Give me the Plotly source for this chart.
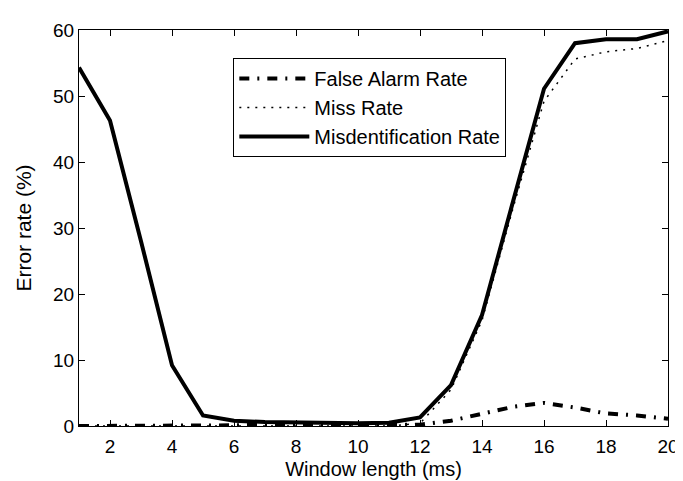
import plotly.graph_objects as go

window_ms = list(range(1, 21))
false_alarm = [0.0, 0.0, 0.0, 0.0, 0.0, 0.1, 0.2, 0.2, 0.2, 0.2, 0.2, 0.2,
               0.8, 1.9, 2.9, 3.5, 2.8, 1.9, 1.6, 1.1]
miss_rate = [0.0, 0.0, 0.0, 0.0, 0.0, 0.0, 0.0, 0.0, 0.0, 0.0, 0.0, 0.4,
             5.5, 16.0, 33.0, 49.2, 55.6, 56.7, 57.2, 58.4]
misident = [54.3, 46.3, 28.0, 9.2, 1.6, 0.8, 0.6, 0.5, 0.4, 0.4, 0.5, 1.3,
            6.2, 16.8, 34.0, 51.1, 58.0, 58.6, 58.6, 59.8]

FONT = "Liberation Sans, Arial, Helvetica, sans-serif"

fig = go.Figure()
fig.add_trace(go.Scatter(x=window_ms, y=false_alarm, mode="lines",
                         name="False Alarm Rate",
                         line=dict(color="black", width=4, dash="10px,8px,2px,8px")))
fig.add_trace(go.Scatter(x=window_ms, y=miss_rate, mode="lines",
                         name="Miss Rate",
                         line=dict(color="black", width=1.5, dash="2px,6px")))
fig.add_trace(go.Scatter(x=window_ms, y=misident, mode="lines",
                         name="Misdentification Rate",
                         line=dict(color="black", width=4)))

axis_common = dict(showgrid=False, zeroline=False, showline=True, linecolor="black",
                   linewidth=1, mirror="ticks", ticks="inside", ticklen=6,
                   tickcolor="black", tickfont=dict(family=FONT, size=19, color="black"))

fig.update_layout(
    width=683, height=481,
    margin=dict(l=71, r=13, t=14, b=57),
    paper_bgcolor="white", plot_bgcolor="white",
    font=dict(family=FONT, color="black"),
    xaxis=dict(range=[1, 20], tick0=0, dtick=2, ticklabelstandoff=3,
               title=dict(text="Window length (ms)", font=dict(family=FONT, size=20), standoff=6),
               **axis_common),
    yaxis=dict(range=[0, 60], tick0=0, dtick=10,
               title=dict(text="Error rate (%)", font=dict(family=FONT, size=21), standoff=15),
               **axis_common),
    legend=dict(x=0.262, y=0.929, xanchor="left", yanchor="top",
                bgcolor="white", bordercolor="black", borderwidth=1,
                font=dict(family=FONT, size=20, color="black"),
                itemwidth=70, tracegroupgap=0),
    showlegend=True,
)

fig.write_html("out.html")
